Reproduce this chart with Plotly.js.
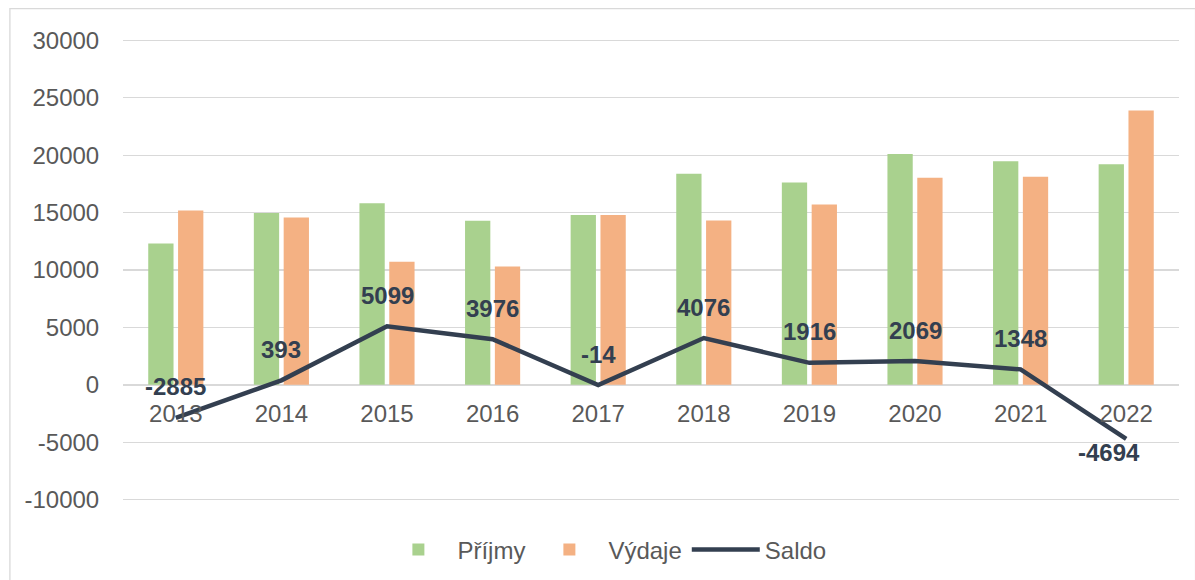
<!DOCTYPE html>
<html>
<head>
<meta charset="utf-8">
<script src="https://cdn.plot.ly/plotly-3.0.1.min.js"></script>
<style>
  html, body { margin: 0; padding: 0; background: #ffffff; }
  #chart { width: 1195px; height: 580px; }
</style>
</head>
<body>
<div id="chart"></div>
<script>
const years = ['2013', '2014', '2015', '2016', '2017', '2018', '2019', '2020', '2021', '2022'];
const prijmy = [12300, 14970, 15810, 14280, 14780, 18380, 17620, 20110, 19460, 19200];
const vydaje = [15185, 14577, 10711, 10304, 14794, 14304, 15704, 18041, 18112, 23894];
const saldo = [-2885, 393, 5099, 3976, -14, 4076, 1916, 2069, 1348, -4694];
const yTickVals = [-10000, -5000, 0, 5000, 10000, 15000, 20000, 25000, 30000];
const yTickText = ['-10000', '-5000', '0', '5000', '10000', '15000', '20000', '25000', '30000'];

const FONT = 'Liberation Sans, Arial, sans-serif';
const GRID = '#d9d9d9';

const traces = [
  { type: 'bar', name: 'Příjmy', x: years, y: prijmy, marker: { color: '#a9d18e' }, hoverinfo: 'x+y+name' },
  { type: 'bar', name: 'Výdaje', x: years, y: vydaje, marker: { color: '#f4b183' }, hoverinfo: 'x+y+name' },
  { type: 'scatter', mode: 'lines', name: 'Saldo', x: years, y: saldo,
    line: { color: '#333f50', width: 4.5 }, hoverinfo: 'x+y+name' }
];

// category axis: annotations positioned by category index
const annotations = years.map((yr, i) => ({
  x: i, y: saldo[i], xref: 'x', yref: 'y',
  text: String(saldo[i]), showarrow: false,
  xanchor: 'center', yanchor: 'middle',
  yshift: yr === '2022' ? -14 : 31,
  xshift: yr === '2022' ? -17 : 0,
  font: { family: FONT, size: 24, color: '#333f50', weight: 'bold' }
}));

const layout = {
  width: 1195, height: 580,
  margin: { l: 123, r: 16, t: 38, b: 78, autoexpand: false },
  paper_bgcolor: '#ffffff', plot_bgcolor: '#ffffff',
  font: { family: FONT, size: 24, color: '#595959' },
  barmode: 'group', bargap: 0.435, bargroupgap: 0.152,
  showlegend: true,
  legend: {
    orientation: 'h', xref: 'container', yref: 'container',
    x: 0.5066, xanchor: 'center', y: 0.052, yanchor: 'middle',
    font: { family: FONT, size: 24, color: '#595959' }, itemwidth: 68,
    bgcolor: 'rgba(0,0,0,0)'
  },
  xaxis: {
    type: 'category', categoryarray: years, range: [-0.5, 9.5], autorange: false,
    anchor: 'free', position: 0.2525, automargin: false,
    showline: false, showgrid: false, zeroline: false,
    ticks: 'outside', ticklen: 7, tickcolor: 'rgba(0,0,0,0)',
    tickfont: { family: FONT, size: 24, color: '#595959' }
  },
  yaxis: {
    range: [-10200, 30200], autorange: false, tickvals: yTickVals, ticktext: yTickText,
    automargin: false,
    showgrid: true, gridcolor: GRID, gridwidth: 1.3,
    zeroline: true, zerolinecolor: GRID, zerolinewidth: 1.3,
    showline: false, ticks: 'outside', ticklen: 18, tickcolor: 'rgba(0,0,0,0)',
    tickfont: { family: FONT, size: 24, color: '#595959' }
  },
  annotations: annotations,
  shapes: [{
    type: 'rect', xref: 'paper', yref: 'paper',
    x0: -0.1071, x1: 1.0157, y0: -0.18, y1: 1.0632,
    line: { color: GRID, width: 1.3 }, fillcolor: 'rgba(0,0,0,0)', layer: 'below'
  }]
};

Plotly.newPlot('chart', traces, layout, { displayModeBar: false, staticPlot: true });
</script>
</body>
</html>
